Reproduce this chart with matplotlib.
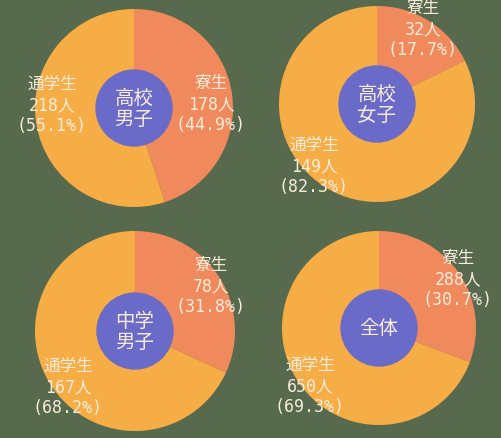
import matplotlib.pyplot as plt
from matplotlib.patches import Circle

plt.rcParams['font.family'] = ['Noto Sans CJK JP', 'DejaVu Sans']

# -----------------------------
# Data
# -----------------------------
groups = ["高校\n男子", "高校\n女子", "中学\n男子", "全体"]
categories = ["寮生", "通学生"]
dorm = [178, 32, 78, 288]
commute = [218, 149, 167, 650]
dorm_pct = [44.9, 17.7, 31.8, 30.7]
commute_pct = [55.1, 82.3, 68.2, 69.3]

# layout in pixels (x, y from top)
centers = [(134, 109), (377, 105), (135, 332), (379, 329)]
radii = [99, 98, 100, 97]
dorm_pos = [(211, 104), (423, 29), (211, 286), (458, 279)]
commute_pos = [(52, 105), (314, 166), (68, 387), (310, 386)]

bg = "#576a4e"
c_dorm = "#f08a5c"
c_commute = "#f6ad46"
c_center = "#6a6bc8"
c_text = "#f7ecdc"
label_font = ['DejaVu Sans Mono', 'Noto Sans CJK JP']

W, H = 502, 439
fig = plt.figure(figsize=(W / 100, H / 100), dpi=100, facecolor=bg)
ax = fig.add_axes([0, 0, 1, 1])
ax.set_facecolor(bg)

for i in range(4):
    cx, cy = centers[i]
    ax.pie([dorm[i], commute[i]], colors=[c_dorm, c_commute],
           center=(cx, H - cy), radius=radii[i], startangle=90,
           counterclock=False, wedgeprops=dict(linewidth=0))
    ax.add_patch(Circle((cx, H - cy), 38, color=c_center, zorder=3))
    ax.text(cx, H - cy, groups[i], ha="center", va="center", fontsize=14,
            color=c_text, zorder=4, linespacing=1.05)

    dx, dy = dorm_pos[i]
    ax.text(dx, H - dy, f"{categories[0]}\n{dorm[i]}人\n({dorm_pct[i]}%)",
            ha="center", va="center", fontsize=12, color=c_text,
            family=label_font, linespacing=1.2, zorder=4)
    px, py = commute_pos[i]
    ax.text(px, H - py, f"{categories[1]}\n{commute[i]}人\n({commute_pct[i]}%)",
            ha="center", va="center", fontsize=12, color=c_text,
            family=label_font, linespacing=1.2, zorder=4)

ax.set_xlim(0, W)
ax.set_ylim(0, H)
ax.set_aspect("equal")
ax.axis("off")

fig.savefig("out.png", dpi=100, facecolor=bg)
